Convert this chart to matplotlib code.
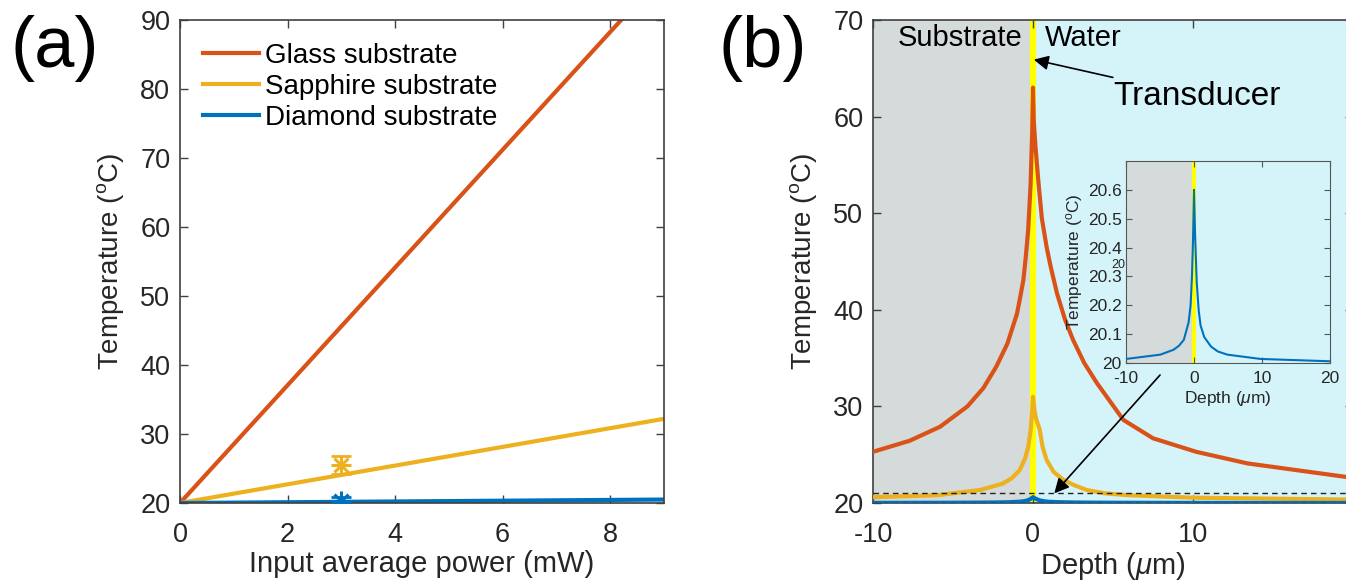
import numpy as np
import matplotlib
matplotlib.use("Agg")
import matplotlib.pyplot as plt

plt.rcParams['font.family'] = ['Liberation Sans', 'DejaVu Sans']
plt.rcParams['mathtext.fontset'] = 'custom'
plt.rcParams['mathtext.rm'] = 'Liberation Sans'
plt.rcParams['mathtext.it'] = 'Liberation Sans:italic'
plt.rcParams['axes.unicode_minus'] = False

# ---------------- data ----------------
# panel (a)
power = [0, 9]
glass_a = [20, 96.8]
sapphire_a = [20, 32.2]
diamond_a = [20, 20.5]
meas_power = [3]
meas_sapphire = [25.5]
meas_sapphire_err = [1.3]
meas_diamond = [20.3]
meas_diamond_err = [0.5]

# panel (b)
depth_glass = [-10, -7.7, -5.8, -4.1, -3.1, -2.3, -1.6, -1.0, -0.8, -0.6, -0.45, -0.3, -0.15, -0.05, 0,
               0.05, 0.15, 0.33, 0.55, 0.85, 1.1, 1.5, 2.0, 2.5, 3.2, 4.0, 5.65, 7.5, 10.2, 13.4, 20]
temp_glass = [25.3, 26.45, 27.9, 30.0, 31.9, 34.1, 36.5, 39.6, 41.3, 43.1, 45.5, 48.3, 53.0, 58.5, 63.0,
              59.5, 57.0, 53.4, 49.5, 46.5, 44.5, 41.7, 39.0, 36.9, 34.5, 32.4, 28.6, 26.7, 25.3, 24.1, 22.6]
depth_sapph = [-10, -6, -3.3, -1.9, -1.3, -0.83, -0.5, -0.3, -0.15, -0.05, 0,
               0.1, 0.2, 0.42, 0.6, 0.85, 1.3, 1.9, 2.5, 3.35, 4.5, 6, 10, 20]
temp_sapph = [20.6, 20.8, 21.35, 22.0, 22.6, 23.4, 24.6, 25.8, 27.5, 29.5, 31.0,
              29.5, 28.7, 27.6, 25.8, 24.45, 23.2, 22.4, 21.9, 21.35, 21.0, 20.8, 20.55, 20.35]
depth_diam = [-10, -4.95, -3.0, -2.2, -1.5, -0.8, -0.5, -0.3, -0.15, 0,
              0.15, 0.4, 0.7, 0.97, 1.5, 2.5, 3.5, 4.9, 9.8, 20]
temp_diam = [20.014, 20.029, 20.046, 20.06, 20.08, 20.14, 20.2, 20.3, 20.42, 20.6,
             20.45, 20.28, 20.18, 20.13, 20.09, 20.057, 20.04, 20.029, 20.014, 20.006]

c_glass = '#D95319'
c_sapph = '#EDB120'
c_diam = '#0072BD'
c_sub = '#d5dadb'
c_water = '#d5f4fa'
c_ax = '#404040'
c_txt = '#262626'

fig = plt.figure(figsize=(13.46, 5.8), dpi=100)

def style_axes(ax, fs):
    for s in ax.spines.values():
        s.set_color(c_ax)
        s.set_linewidth(1.2)
    ax.tick_params(direction='in', top=True, right=True, length=6, width=1.0,
                   colors=c_ax, labelcolor=c_txt, labelsize=fs)
    ax.tick_params(axis='x', pad=14)
    ax.tick_params(axis='y', pad=7)

# ---------------- panel (a) ----------------
axa = fig.add_axes([180/1346, 77/580, 484/1346, 483/580])
axa.plot(power, glass_a, color=c_glass, lw=3, label='Glass substrate')
axa.plot(power, sapphire_a, color=c_sapph, lw=3, label='Sapphire substrate')
axa.plot(power, diamond_a, color=c_diam, lw=3, label='Diamond substrate')
for val, err, col in [(meas_sapphire, meas_sapphire_err, c_sapph),
                      (meas_diamond, meas_diamond_err, c_diam)]:
    axa.errorbar(meas_power, val, yerr=err, color=col, ls='none', capsize=7,
                 elinewidth=2, capthick=2, zorder=4)
    axa.plot(meas_power, val, ls='none', marker='+', ms=14, mew=2.2, color=col, zorder=4)
    axa.plot(meas_power, val, ls='none', marker='x', ms=10, mew=2.2, color=col, zorder=4)
axa.set_xlim(0, 9)
axa.set_ylim(20, 90)
axa.set_xticks([0, 2, 4, 6, 8])
axa.set_yticks(range(20, 91, 10))
style_axes(axa, 19.5)
axa.set_xlabel('Input average power (mW)', fontsize=21, color=c_txt, labelpad=1)
axa.set_ylabel('Temperature ($^{\\rm o}$C)', fontsize=20, color=c_txt, labelpad=10)
leg = axa.legend(loc='upper left', frameon=False, fontsize=20, handlelength=2.0,
                 handletextpad=0.25, borderpad=0, borderaxespad=0, labelspacing=0.18,
                 bbox_to_anchor=(0.0475, 0.952))
fig.text(55/1346, 1 - 48/580, '(a)', fontsize=52, ha='center', va='center')

# ---------------- panel (b) ----------------
axb = fig.add_axes([873/1346, 77/580, 480/1346, 483/580])
axb.axvspan(-10, 0, color=c_sub, lw=0, zorder=0)
axb.axvspan(0, 20, color=c_water, lw=0, zorder=0)
axb.axvline(0, color='#ffff00', lw=4.5, zorder=1)
axb.plot(depth_glass, temp_glass, color=c_glass, lw=3, zorder=3)
axb.plot(depth_sapph, temp_sapph, color=c_sapph, lw=3, zorder=3)
axb.plot(depth_diam, temp_diam, color=c_diam, lw=3, zorder=3)
axb.axhline(21.07, color='#222222', lw=1, ls=(0, (4, 3)), zorder=4)
axb.axhline(20.05, color='#222222', lw=1, ls=(0, (4, 3)), zorder=4)
axb.set_xlim(-10, 20)
axb.set_ylim(20, 70)
axb.set_xticks([-10, 0, 10])
axb.set_yticks(range(20, 71, 10))
style_axes(axb, 19.5)
axb.set_xlabel('Depth ($\\mu$m)', fontsize=21, color=c_txt, labelpad=1)
axb.set_ylabel('Temperature ($^{\\rm o}$C)', fontsize=20, color=c_txt, labelpad=10)
axb.text(-0.69, 68.1, 'Substrate', fontsize=21, ha='right', va='center', zorder=5)
axb.text(0.75, 68.1, 'Water', fontsize=21, ha='left', va='center', zorder=5)
axb.annotate('Transducer', xy=(0.05, 65.9), xytext=(5.0, 62.1), fontsize=24,
             ha='left', va='center', zorder=5,
             arrowprops=dict(arrowstyle='-|>', color='black', lw=1.2,
                             mutation_scale=22, shrinkA=2, shrinkB=0))
axb.annotate('', xy=(1.33, 21.0), xytext=(7.94, 33.25), zorder=5,
             arrowprops=dict(arrowstyle='-|>', color='black', lw=1.2,
                             mutation_scale=22, shrinkA=0, shrinkB=0))
fig.text(763/1346, 1 - 48/580, '(b)', fontsize=52, ha='center', va='center')

# ---------------- inset ----------------
axi = fig.add_axes([1126/1346, 217/580, 204/1346, 202/580])
axi.axvspan(-10, 0, color=c_sub, lw=0, zorder=0)
axi.axvspan(0, 20, color=c_water, lw=0, zorder=0)
axi.axvline(0, color='#ffff00', lw=3, zorder=1)
axi.plot(depth_diam, temp_diam, color=c_diam, lw=1.5, zorder=3)
axi.set_xlim(-10, 20)
axi.set_ylim(20, 20.7)
axi.set_xticks([-10, 0, 10, 20])
axi.set_yticks([20, 20.1, 20.2, 20.3, 20.4, 20.5, 20.6])
axi.set_yticklabels(['20', '20.1', '20.2', '20.3', '20.4', '20.5', '20.6'])
for s in axi.spines.values():
    s.set_color('#555555')
    s.set_linewidth(0.8)
axi.tick_params(direction='in', top=True, right=True, length=4, width=0.8,
                colors='#555555', labelcolor=c_txt, labelsize=12.5)
axi.tick_params(axis='x', pad=6)
axi.tick_params(axis='y', pad=3)
axi.set_xlabel('Depth ($\\mu$m)', fontsize=12.5, color=c_txt, labelpad=2)
axi.set_ylabel('Temperature ($^{\\rm o}$C)', fontsize=12.5, color=c_txt, labelpad=2)
fig.text(1118/1346, 1 - 265/580, '20', fontsize=9, color=c_txt, ha='center', va='center')

fig.savefig('out.png', dpi=100)
